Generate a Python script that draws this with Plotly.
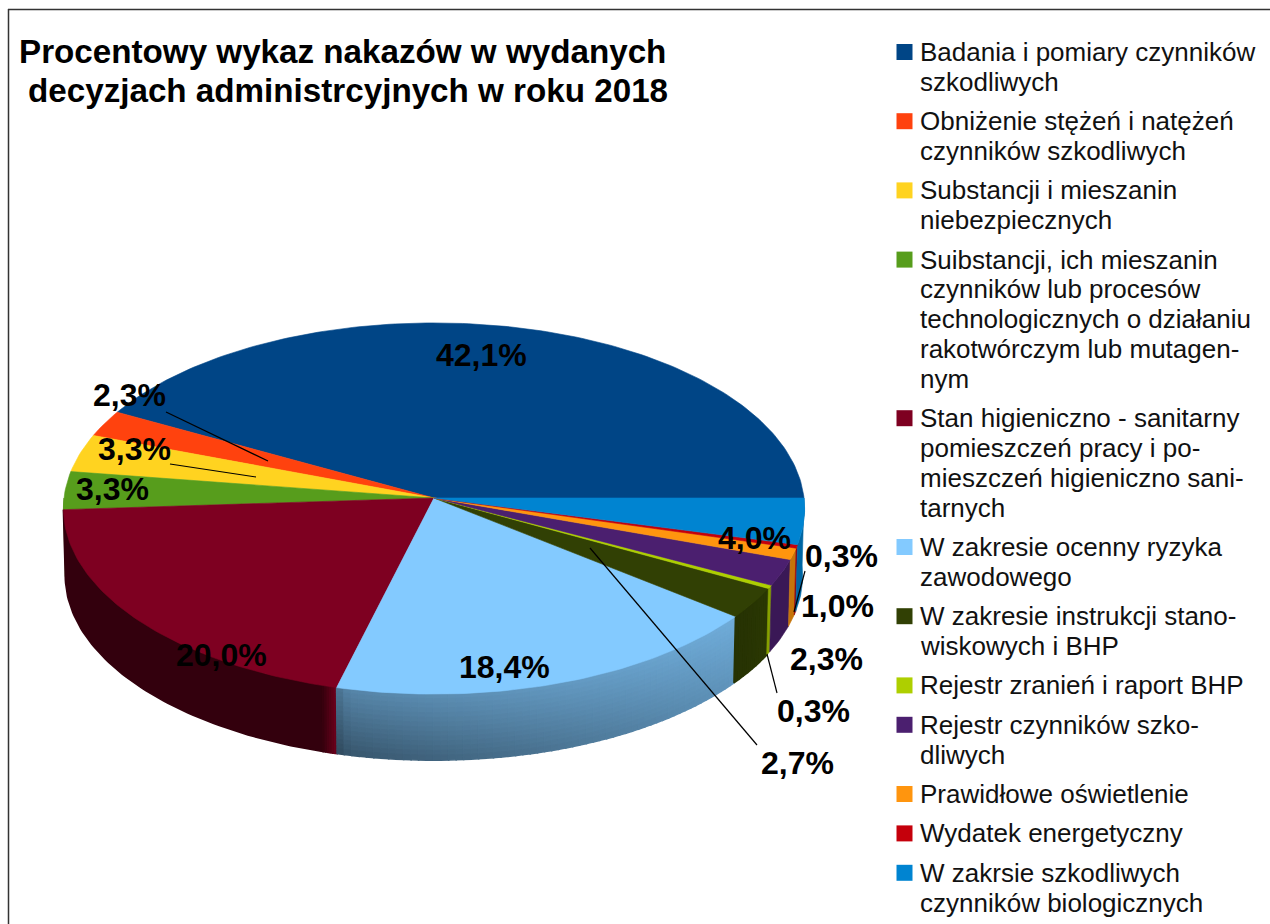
import math
import plotly.graph_objects as go

# ---- data ----
categories = [
    "Badania i pomiary czynników<br>szkodliwych",
    "Obniżenie stężeń i natężeń<br>czynników szkodliwych",
    "Substancji i mieszanin<br>niebezpiecznych",
    "Suibstancji, ich mieszanin<br>czynników lub procesów<br>technologicznych o działaniu<br>rakotwórczym lub mutagen-<br>nym",
    "Stan higieniczno - sanitarny<br>pomieszczeń pracy i po-<br>mieszczeń higieniczno sani-<br>tarnych",
    "W zakresie ocenny ryzyka<br>zawodowego",
    "W zakresie instrukcji stano-<br>wiskowych i BHP",
    "Rejestr zranień i raport BHP",
    "Rejestr czynników szko-<br>dliwych",
    "Prawidłowe oświetlenie",
    "Wydatek energetyczny",
    "W zakrsie szkodliwych<br>czynników biologicznych",
]
values = [42.1, 2.3, 3.3, 3.3, 20.0, 18.4, 2.7, 0.3, 2.3, 1.0, 0.3, 4.0]
colors = ["#004586", "#ff420e", "#ffd320", "#579d1c", "#7e0021", "#83caff",
          "#314004", "#aecf00", "#4b1f6f", "#ff950e", "#c5000b", "#0084d1"]
title_lines = ["Procentowy wykaz nakazów w wydanych",
               "decyzjach administrcyjnych w roku 2018"]
label_pos = [(481, 355), (129, 395), (134, 449), (112, 489), (221, 655), (504, 667),
             (797, 763), (813, 711), (826, 659), (837, 606), (841, 556), (754, 538)]
leaders = [((166, 412), (268, 461)), ((170, 464), (256, 477)), ((590, 548), (757, 745)),
           ((767, 654), (777, 693)), ((805, 571), (794, 612))]

# ---- geometry style ----
CX, CY, RX, RY, PERSP = 434.0, 498.0, 370.0, 185.0, 0.0566
DEPTH, BOTTOM_SCALE = 67.0, 0.995
FONT = "Liberation Sans"
LEG_KEY_X, LEG_TEXT_X, LEG_TOP, LEG_PITCH, LEG_GAP = 904.5, 918, 52, 29.8, 39.4


def project(deg, level=0.0):
    """Perspective projection of a rim point; level 0 = top face, 1 = bottom face."""
    c, s = math.cos(math.radians(deg)), math.sin(math.radians(deg))
    f = 1.0 / (1.0 + PERSP * s)
    k = 1.0 + (BOTTOM_SCALE - 1.0) * level
    return CX + RX * c * f * k, CY - RY * s * f * k + DEPTH * level


def hex2rgb(h):
    return tuple(int(h[i:i + 2], 16) for i in (1, 3, 5))


def shade(i, u, v):
    """Side colour of slice i; u runs along the rim (0-1), v runs down the wall (0-1)."""
    r, g, b = hex2rgb(colors[i])
    if i == 4:  # dark wall with a short highlight where it meets the next slice
        m = 0.41 + 0.45 * max(0.0, (u - 0.97) / 0.03)
    elif i == 5:  # soft diagonal light on the wall
        m = (0.66 + 0.20 * u) - v * (0.24 - 0.12 * u)
        m = m * (0.85 + 0.15 * min(1.0, u / 0.03))
    elif i == 6:
        m = 0.78 + 0.10 * u
    else:
        m = 0.78
    return "rgb(%d,%d,%d)" % (min(255, r * m), min(255, g * m), min(255, b * m))


fig = go.Figure()

angles = [0.0]
total = sum(values)
for v in values:
    angles.append(angles[-1] + v / total * 360.0)


def poly(pts, color, width=0.6):
    pts = pts + [pts[0]]
    fig.add_trace(go.Scatter(x=[p[0] for p in pts], y=[p[1] for p in pts], mode="lines",
                             fill="toself", fillcolor=color,
                             line=dict(color=color, width=width), hoverinfo="skip",
                             showlegend=False))


# outer walls, only on the front half of the rim
for i, v in enumerate(values):
    a0, a1 = max(angles[i], 180.0), angles[i + 1]
    if a1 <= 180.0:
        continue
    if i == 4:
        us = [0.0, 0.97] + [0.97 + 0.03 * k / 6 for k in range(1, 7)]
    elif i == 5:
        us = [k / 60 for k in range(61)]
    elif i == 6:
        us = [k / 8 for k in range(9)]
    else:
        us = [0.0, 1.0]
    nv = 14 if i == 5 else 1
    for u0, u1 in zip(us[:-1], us[1:]):
        steps = max(1, int((a1 - a0) * (u1 - u0)))
        arc = [a0 + (a1 - a0) * (u0 + (u1 - u0) * t / steps) for t in range(steps + 1)]
        for jv in range(nv):
            l0, l1 = jv / nv, (jv + 1) / nv
            pts = [project(d, l0) for d in arc] + [project(d, l1) for d in reversed(arc)]
            poly(pts, shade(i, (u0 + u1) / 2, (l0 + l1) / 2), width=1.6 if len(us) > 2 else 0.6)

# top faces
for i, v in enumerate(values):
    n = max(4, int((angles[i + 1] - angles[i]) / 1.0))
    rim = [project(angles[i] + (angles[i + 1] - angles[i]) * t / n) for t in range(n + 1)]
    poly([(CX, CY)] + rim, colors[i])

# leader lines
shapes = [dict(type="line", x0=a[0], y0=a[1], x1=b[0], y1=b[1], xref="x", yref="y",
               line=dict(color="black", width=1.2), layer="above") for a, b in leaders]
# chart frame
shapes += [
    dict(type="line", x0=8, y0=9.5, x1=1270, y1=9.5, xref="x", yref="y",
         line=dict(color="#333333", width=1.5), layer="above"),
    dict(type="line", x0=8.5, y0=9, x1=8.5, y1=924, xref="x", yref="y",
         line=dict(color="#333333", width=1.5), layer="above"),
]

annotations = [
    dict(x=p[0], y=p[1], xref="x", yref="y", showarrow=False, xanchor="center", yanchor="middle",
         text=f"{v:.1f}".replace(".", ",") + "%",
         font=dict(family=FONT, size=32, color="black", weight="bold"))
    for v, p in zip(values, label_pos)
]

# second title line (its line spacing is tighter than a single title block allows)
annotations.append(dict(x=26, y=90, xref="x", yref="y", showarrow=False, xanchor="left",
                        yanchor="middle", text=title_lines[1],
                        font=dict(family=FONT, size=33.2, color="black", weight="bold")))

# legend column: square key plus one text per wrapped line
legend_y = LEG_TOP
key_x, key_y, key_c = [], [], []
for i, name in enumerate(categories):
    key_x.append(LEG_KEY_X)
    key_y.append(legend_y)
    key_c.append(colors[i])
    for j, line in enumerate(name.split("<br>")):
        annotations.append(dict(x=LEG_TEXT_X, y=legend_y, xref="x", yref="y", showarrow=False,
                                xanchor="left", yanchor="middle", text=line,
                                font=dict(family=FONT, size=26, color="#111111")))
        legend_y += LEG_PITCH
    legend_y += LEG_GAP - LEG_PITCH
fig.add_trace(go.Scatter(x=key_x, y=key_y, mode="markers", hoverinfo="skip", showlegend=False,
                         marker=dict(symbol="square", size=16, color=key_c, line=dict(width=0))))

fig.update_layout(
    width=1270, height=924, margin=dict(l=0, r=0, t=0, b=0),
    paper_bgcolor="white", plot_bgcolor="white", showlegend=False,
    xaxis=dict(range=[0, 1270], visible=False, fixedrange=True),
    yaxis=dict(range=[924, 0], visible=False, fixedrange=True),
    title=dict(text=title_lines[0], x=19 / 1270, xanchor="left", y=1 - 51 / 924, yanchor="middle",
               font=dict(family=FONT, size=33.2, color="black", weight="bold")),
    shapes=shapes, annotations=annotations,
)

fig.write_html("out.html", config=dict(displayModeBar=False),
               post_script="document.body.style.margin='0';")
